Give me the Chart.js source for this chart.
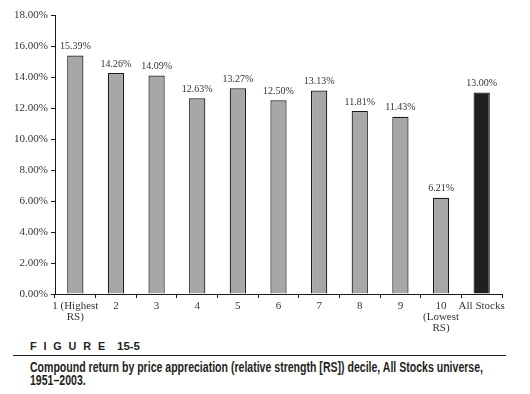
<!DOCTYPE html>
<html><head><meta charset="utf-8">
<script src="https://cdn.jsdelivr.net/npm/chart.js@4.4.1/dist/chart.umd.min.js"></script>
<style>
html,body{margin:0;padding:0;background:#fff;width:530px;height:394px;overflow:hidden;position:relative}
#wrap{position:absolute;left:0;top:0;width:530px;height:335px}
.cap{position:absolute;font-family:"Liberation Sans",Arial,sans-serif;font-weight:bold;color:#231f20;white-space:nowrap;transform-origin:0 0}
#fig{left:30px;top:341px;font-size:11px;line-height:11px;letter-spacing:7px}
#num{left:117px;top:341px;font-size:11px;line-height:11px}
#rule{position:absolute;left:13px;top:355px;width:493px;height:1px;background:#231f20}
#l1{left:30px;top:360px;font-size:14px;line-height:14px}
#l2{left:30px;top:373px;font-size:14px;line-height:14px}
</style></head>
<body>
<div id="wrap"><canvas id="c" width="530" height="335"></canvas></div>
<div id="fig" class="cap">FIGURE</div>
<div id="num" class="cap">15-5</div>
<div id="rule"></div>
<div id="l1" class="cap">Compound return by price appreciation (relative strength [RS]) decile, All Stocks universe,</div>
<div id="l2" class="cap">1951–2003.</div>
<script>
const categories = [['1 (Highest','RS)'],'2','3','4','5','6','7','8','9',['10','(Lowest','RS)'],'All Stocks'];
const returns = [15.39,14.26,14.09,12.63,13.27,12.50,13.13,11.81,11.43,6.21,13.00];
const valueLabels = ['15.39%','14.26%','14.09%','12.63%','13.27%','12.50%','13.13%','11.81%','11.43%','6.21%','13.00%'];
const yTicks = [0,2,4,6,8,10,12,14,16,18];

// condense caption text to match narrow typeface widths
(function(){
  const l1 = document.getElementById('l1');
  const s = 453 / l1.getBoundingClientRect().width;
  ['l1','l2'].forEach(id=>{document.getElementById(id).style.transform='scaleX('+s.toFixed(3)+')';});
  const n = document.getElementById('num');
  n.style.transform='scaleX('+(23/n.getBoundingClientRect().width).toFixed(3)+')';
  const f = document.getElementById('fig');
  f.style.transform='scaleX('+(82/f.getBoundingClientRect().width).toFixed(3)+')';
})();

const barColors = returns.map((v,i)=> i===returns.length-1 ? '#231f20' : '#a7a7aa');
const serif = '"Liberation Serif","Times New Roman",serif';

const labelPlugin = {
  id:'valueLabels',
  afterDatasetsDraw(chart){
    const ctx = chart.ctx;
    const meta = chart.getDatasetMeta(0);
    ctx.save();
    ctx.font = '10px ' + serif;
    ctx.fillStyle = '#333';
    ctx.textAlign = 'center';
    ctx.textBaseline = 'bottom';
    meta.data.forEach((bar,i)=>{
      ctx.fillText(valueLabels[i], bar.x, bar.y - 4);
    });
    ctx.restore();
  }
};

new Chart(document.getElementById('c'),{
  type:'bar',
  data:{labels:categories,datasets:[{data:returns,backgroundColor:barColors,borderColor:'#1a1a1a',borderWidth:1.2,barPercentage:0.4,categoryPercentage:1}]},
  options:{
    responsive:false,animation:false,
    layout:{padding:{left:0,right:28,top:15,bottom:0}},
    plugins:{legend:{display:false},tooltip:{enabled:false}},
    scales:{
      x:{
        offset:true,
        grid:{display:true,offset:true,drawOnChartArea:false,drawTicks:true,tickLength:4,color:'#1a1a1a',lineWidth:1},
        border:{display:true,color:'#1a1a1a',width:1},
        ticks:{color:'#333',font:{family:serif,size:11,lineHeight:1.0},maxRotation:0,minRotation:0,autoSkip:false,padding:3},
        afterFit(s){s.height=41;}
      },
      y:{
        min:0,max:18,
        afterBuildTicks(s){s.ticks = yTicks.map(v=>({value:v}));},
        grid:{display:true,drawOnChartArea:false,drawTicks:true,tickLength:4,color:'#1a1a1a',lineWidth:1},
        border:{display:true,color:'#1a1a1a',width:1},
        ticks:{color:'#333',font:{family:serif,size:11},padding:3,callback:(v)=>v.toFixed(2)+'%'},
        afterFit(s){s.width=55;}
      }
    }
  },
  plugins:[labelPlugin]
});
</script>
</body></html>
